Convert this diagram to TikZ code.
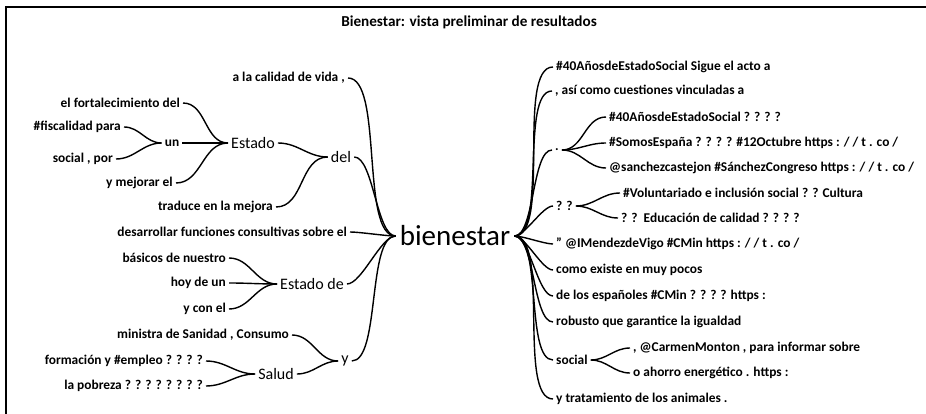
\documentclass[tikz,border=0pt]{standalone}
\usepackage{fontspec}
\setmainfont{Carlito}

\begin{document}
\begin{tikzpicture}[x=1pt,y=-1pt]
    \tikzstyle{leaf} = [font=\bfseries\fontsize{13.4}{13.4}\selectfont, inner sep=3pt]
    \tikzstyle{word} = [font=\fontsize{16}{16}\selectfont, inner sep=3pt]
    \tikzstyle{root} = [font=\fontsize{29}{29}\selectfont, inner sep=4pt]
    \tikzstyle{branch} = [line width=1.4pt, out=0, in=180]
    \tikzstyle{trunk} = [branch, looseness=0.55]

    \useasboundingbox (0,0) rectangle (926,414);
    \draw[line width=1.5pt] (6,414) -- (6,7) -- (926,7);
    \node[font=\bfseries\fontsize{15.2}{15.2}\selectfont] (title) at (469,22) {Bienestar: vista preliminar de resultados};

    % left half
    \node[root] (bien) at (455,236) {bienestar};
    \node[leaf, anchor=east] (vida) at (348,78) {a la calidad de vida ,};
    \node[leaf, anchor=east] (fort) at (183,103) {el fortalecimiento del};
    \node[leaf, anchor=east] (fisc) at (124,127) {\#fiscalidad para};
    \node[leaf] (un) at (172,143) {un};
    \node[leaf, anchor=east] (soc) at (116,159) {social , por};
    \node[word] (estado) at (253,143) {Estado};
    \node[leaf, anchor=east] (mejor) at (176,183) {y mejorar el};
    \node[word] (del) at (341,157) {del};
    \node[leaf, anchor=east] (trad) at (276,207) {traduce en la mejora};
    \node[leaf, anchor=east] (desar) at (350,232) {desarrollar funciones consultivas sobre el};
    \node[leaf, anchor=east] (basic) at (229,258) {básicos de nuestro};
    \node[leaf, anchor=east] (hoy) at (229,283) {hoy de un};
    \node[word] (estde) at (312,284) {Estado de};
    \node[leaf, anchor=east] (conel) at (229,309) {y con el};
    \node[leaf, anchor=east] (minis) at (292,335) {ministra de Sanidad , Consumo};
    \node[leaf, anchor=east] (form) at (206,361) {formación y \#empleo ? ? ? ?};
    \node[word] (salud) at (276,374) {Salud};
    \node[word] (y) at (345,361) {y};
    \node[leaf, anchor=east] (pobr) at (206,386) {la pobreza ? ? ? ? ? ? ? ?};

    % right half
    \node[leaf, anchor=west] (acto) at (553,67) {\#40AñosdeEstadoSocial Sigue el acto a};
    \node[leaf, anchor=west] (asi) at (552,91) {, así como cuestiones vinculadas a};
    \node[leaf, anchor=west] (pto) at (552,150) {.};
    \node[leaf, anchor=west] (ano) at (606,117) {\#40AñosdeEstadoSocial ? ? ? ?};
    \node[leaf, anchor=west] (somos) at (606,143) {\#SomosEspaña ? ? ? ? \#12Octubre https : / / t . co /};
    \node[leaf, anchor=west] (sanch) at (606,168) {@sanchezcastejon \#SánchezCongreso https : / / t . co /};
    \node[leaf, anchor=west] (qq) at (553,206) {? ?};
    \node[leaf, anchor=west] (volun) at (620,193) {\#Voluntariado e inclusión social ? ? Cultura};
    \node[leaf, anchor=west] (educ) at (618,218) {? ?\ \ Educación de calidad ? ? ? ?};
    \node[leaf, anchor=west] (mend) at (553,244) {" @IMendezdeVigo \#CMin https : / / t . co /};
    \node[leaf, anchor=west] (como) at (553,270) {como existe en muy pocos};
    \node[leaf, anchor=west] (espa) at (553,296) {de los españoles \#CMin ? ? ? ? https :};
    \node[leaf, anchor=west] (robus) at (553,322) {robusto que garantice la igualdad};
    \node[leaf, anchor=west] (social) at (553,360) {social};
    \node[leaf, anchor=west] (carmen) at (630,348) {, @CarmenMonton , para informar sobre};
    \node[leaf, anchor=west] (ahorro) at (630,373) {o ahorro energético . https :};
    \node[leaf, anchor=west] (anim) at (553,399) {y tratamiento de los animales .};

    % connectors
    \foreach \a/\b in {fisc/un, soc/un, fort/estado, un/estado, mejor/estado,
        estado/del, trad/del, basic/estde, hoy/estde, conel/estde,
        form/salud, pobr/salud, minis/y, salud/y}
        \draw[branch] (\a.east) to (\b.west);
    \foreach \a in {vida, del, desar, estde, y}
        \draw[trunk] (\a.east) to (bien.west);
    \foreach \b in {acto, asi, pto, qq, mend, como, espa, robus, social, anim}
        \draw[trunk] (bien.east) to (\b.west);
    \foreach \a/\b in {pto/ano, pto/somos, pto/sanch,
        qq/volun, qq/educ, social/carmen, social/ahorro}
        \draw[branch] (\a.east) to (\b.west);
\end{tikzpicture}
\end{document}
